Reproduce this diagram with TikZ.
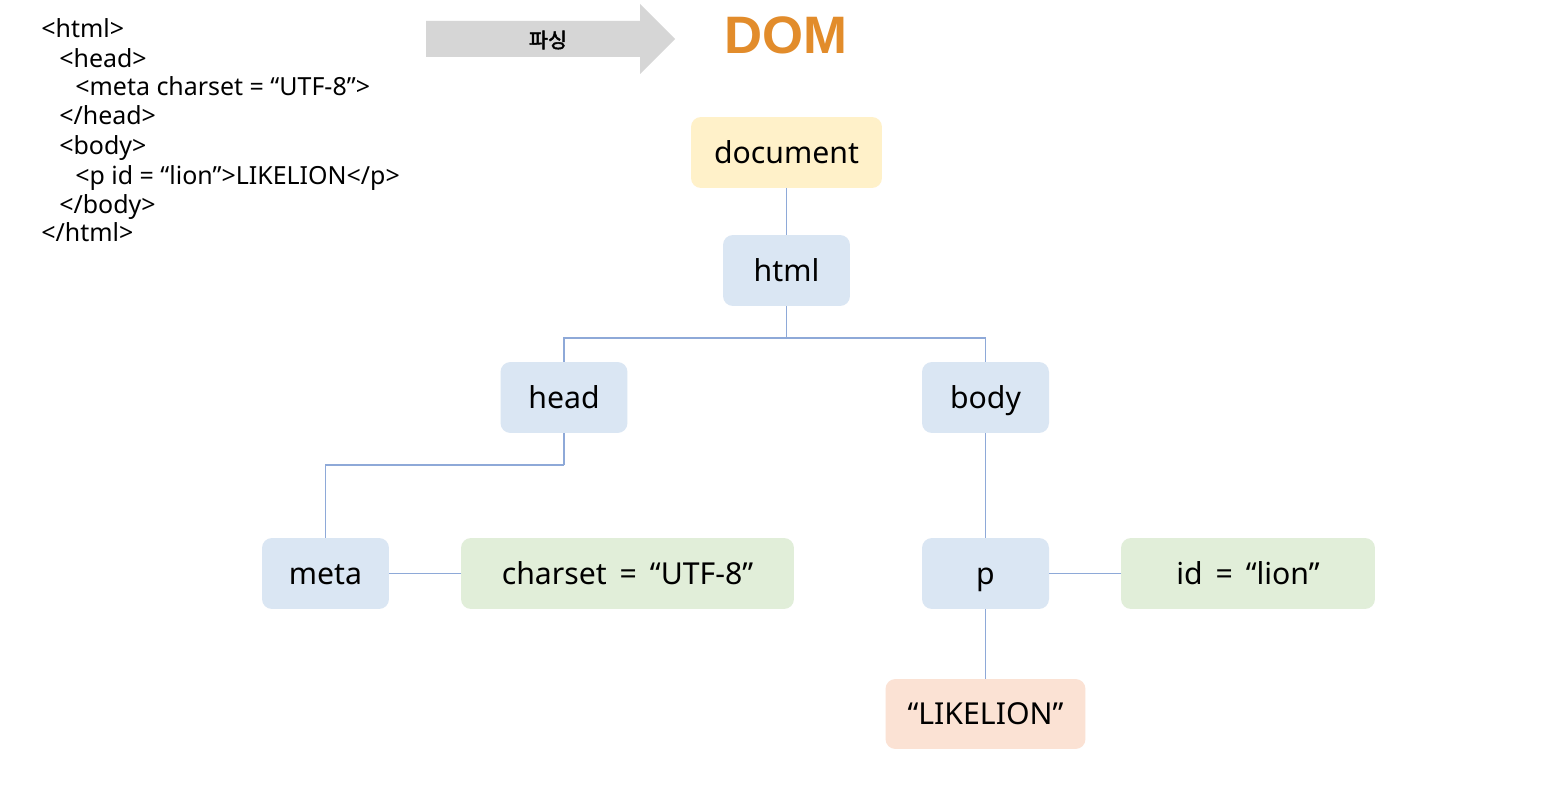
\documentclass[tikz,border=0pt]{standalone}
\usepackage{fontspec}
\setmainfont{Noto Sans}
\newfontfamily\krfont[AutoFakeBold=2]{Noto Sans CJK KR}
\newfontfamily\domfont{Liberation Sans}
\definecolor{tagblue}{HTML}{DAE6F3}
\definecolor{attrgreen}{HTML}{E1EED9}
\definecolor{textpeach}{HTML}{FBE2D4}
\definecolor{docyellow}{HTML}{FFF1C9}
\definecolor{linkblue}{HTML}{8EA9D8}
\definecolor{arrowgray}{HTML}{D6D6D6}
\definecolor{domorange}{HTML}{E28C2B}
\begin{document}
\begin{tikzpicture}[x=0.02cm,y=-0.02cm,
    box/.style={rounded corners=0.2cm, inner sep=0pt, minimum width=2.54cm, minimum height=1.42cm,
      text height=1.3em, text depth=0.1em, font=\fontsize{17.2}{20}\selectfont},
    tagbox/.style={box, fill=tagblue},
    attrbox/.style={box, fill=attrgreen},
    code/.style={anchor=base west, inner sep=0pt, font=\fontsize{14.2}{17}\selectfont},
    link/.style={draw=linkblue, line width=0.75pt}]
    \useasboundingbox[fill=white] (0,0) rectangle (1551,803);

    % html source
    \node[code] (C1) at (41,38)  {<html>};
    \node[code] (C2) at (59,68)  {<head>};
    \node[code] (C3) at (75,96)  {<meta charset = “UTF-8”>};
    \node[code] (C4) at (59,125) {</head>};
    \node[code] (C5) at (59,155) {<body>};
    \node[code] (C6) at (75,185) {<p id = “lion”>LIKELION</p>};
    \node[code] (C7) at (59,214) {</body>};
    \node[code] (C8) at (41,242) {</html>};

    % parsing arrow
    \fill[arrowgray] (426,21) -- (640,21) -- (640,4) -- (675,39) -- (640,74) -- (640,57) -- (426,57) -- cycle;
    \node[font=\krfont\bfseries\fontsize{11.8}{13}\selectfont] (PA) at (548,40) {파싱};
    \node[font=\domfont\bfseries\fontsize{30}{34}\selectfont, text=domorange] (DOM) at (786,35) {DOM};

    % tree
    \node[box, fill=docyellow, minimum width=3.82cm] (DC) at (786.5,152.5) {document};
    \node[tagbox] (HT) at (786.5,270.5) {html};
    \node[tagbox] (HD) at (564,397.5) {head};
    \node[tagbox] (BD) at (985.5,397.5) {body};
    \node[tagbox] (ME) at (325.5,573.5) {meta};
    \node[attrbox, minimum width=6.66cm] (CS) at (627.5,573.5) {charset \,=\, “UTF-8”};
    \node[tagbox] (PP) at (985.5,573.5) {p};
    \node[attrbox, minimum width=5.08cm] (ID) at (1248,573.5) {id \,=\, “lion”};
    \node[box, fill=textpeach, minimum width=4cm, minimum height=1.4cm] (LK) at (985.5,714) {“LIKELION”};

    \coordinate (HS) at (786.5,338);
    \coordinate (HM) at (564,465);

    \draw[link] (DC)--(HT);
    \draw[link] (HT)--(HS);
    \draw[link] (HS)-|(HD);
    \draw[link] (HS)-|(BD);
    \draw[link] (HD)--(HM);
    \draw[link] (HM)-|(ME);
    \draw[link] (ME)--(CS);
    \draw[link] (BD)--(PP);
    \draw[link] (PP)--(ID);
    \draw[link] (PP)--(LK);
\end{tikzpicture}
\end{document}
